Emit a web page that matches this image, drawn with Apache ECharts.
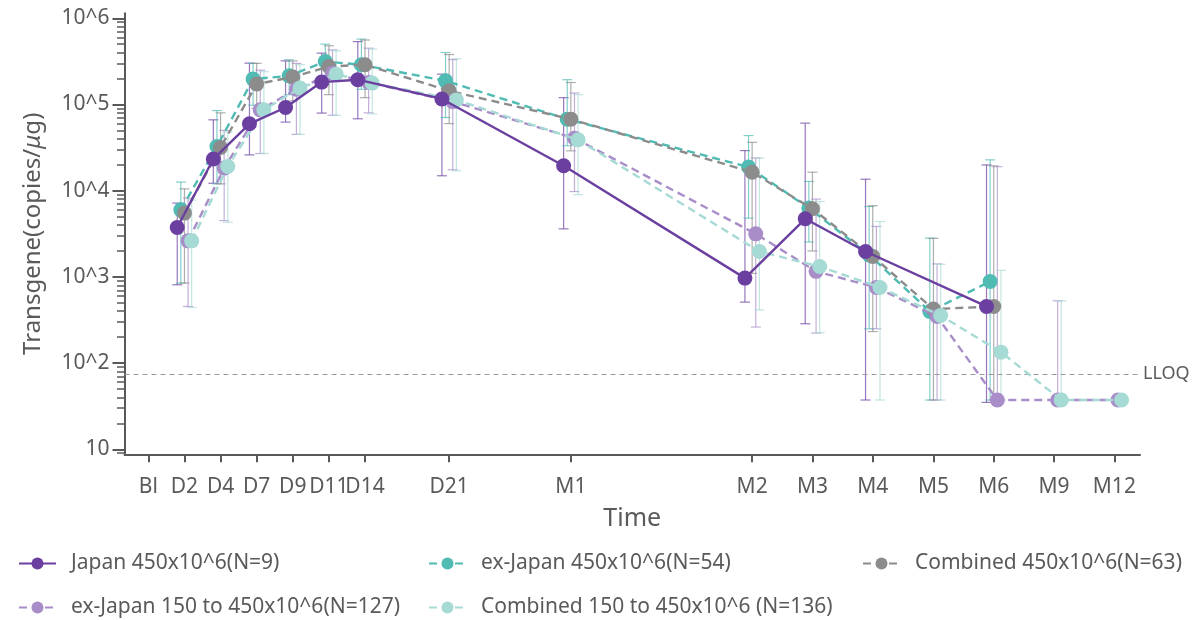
<!DOCTYPE html>
<html>
<head>
<meta charset="utf-8">
<script src="https://cdn.jsdelivr.net/npm/echarts@6/dist/echarts.min.js"></script>
<style>
html,body{margin:0;padding:0;background:#fff;}
#chart{width:1204px;height:620px;}
</style>
</head>
<body>
<div id="chart"></div>
<script>
// ---- Data ----
const timeLabels = ['Bl','D2','D4','D7','D9','D11','D14','D21','M1','M2','M3','M4','M5','M6','M9','M12'];
const timePos = [0, 1, 2, 3, 4, 5, 6, 8.33, 11.7, 16.72, 18.39, 20.06, 21.74, 23.41, 25.08, 26.75];
const yTickLabels = ['10','10^2','10^3','10^4','10^5','10^6'];
const LLOQ = 74.5;

const seriesNames = [
  'Japan 450x10^6(N=9)',
  'ex-Japan 450x10^6(N=54)',
  'Combined 450x10^6(N=63)',
  'ex-Japan 150 to 450x10^6(N=127)',
  'Combined 150 to 450x10^6 (N=136)'
];

const japanVal = [null,3740,23300,59700,92300,182000,194000,116000,19500,968,4720,1970,null,454,null,null];
const japanHi  = [null,7180,66400,302000,321000,394000,537000,225000,120000,29200,60800,13600,null,19900,null,null];
const japanLo  = [null,810,12200,26000,62500,79500,68300,14900,3610,510,286,37.3,null,35,null,null];

const exJ450Val = [null,6000,32600,197000,215000,315000,289000,188000,67600,18800,6290,1800,397,885,null,null];
const exJ450Hi  = [null,12600,85100,300000,330000,501000,574000,401000,194000,43600,12800,6560,2820,22800,null,null];
const exJ450Lo  = [null,848,12000,98000,130000,170000,150000,70600,33200,4810,2540,250,37.3,37.3,null,null];

const comb450Val = [null,5500,31700,173000,208000,276000,289000,144000,67600,16400,6170,1730,423,454,null,null];
const comb450Hi  = [null,10500,80000,300000,320000,480000,560000,380000,180000,36400,16400,6700,2800,19400,null,null];
const comb450Lo  = [null,848,12000,90000,110000,130000,120000,60000,29000,1100,2000,232,37.3,37.3,null,null];

const exJ150Val = [null,2620,18300,86700,150000,230000,180000,108000,40700,3160,1160,754,347,37.3,37.3,37.3];
const exJ150Hi  = [null,8200,50000,250000,300000,430000,450000,332000,136000,24000,8000,3850,1415,19000,528,null];
const exJ150Lo  = [null,454,4500,27000,45000,75000,80000,17500,9770,262,223,250,37.3,37.3,37.3,null];

const comb150Val = [null,2620,19100,86700,155000,225000,177000,113000,38900,1970,1320,754,356,134,37.3,37.3];
const comb150Hi  = [null,7800,48000,240000,290000,420000,440000,340000,130000,23900,7500,4390,1400,1190,528,null];
const comb150Lo  = [null,442,4300,27000,45000,75000,78000,17000,9000,415,226,37.3,37.3,37.3,37.3,null];

// ---- Chart ----
const FONT = '"Noto Sans", "Open Sans", sans-serif';
const TXT = '#5a5a5a';
const AX = '#595959';
const lg = v => (v == null ? null : Math.log10(v));

const defs = [
  {name: seriesNames[0], color: '#6B3FA0', dashed: false, val: japanVal,  lo: japanLo,  hi: japanHi,  dodge: -2, z: 10},
  {name: seriesNames[1], color: '#50BBB3', dashed: true,  val: exJ450Val, lo: exJ450Lo, hi: exJ450Hi, dodge: -1, z: 6},
  {name: seriesNames[2], color: '#8C8C8C', dashed: true,  val: comb450Val,lo: comb450Lo,hi: comb450Hi,dodge: 0,  z: 7},
  {name: seriesNames[3], color: '#A88DC9', dashed: true,  val: exJ150Val, lo: exJ150Lo, hi: exJ150Hi, dodge: 1,  z: 8},
  {name: seriesNames[4], color: '#A6DAD4', dashed: true,  val: comb150Val,lo: comb150Lo,hi: comb150Hi,dodge: 2,  z: 9}
];
const DODGE = 0.1;

const series = [];
defs.forEach(d => {
  const off = d.dodge * DODGE;
  const errData = [];
  timePos.forEach((p, i) => {
    if (d.lo[i] != null && d.hi[i] != null) errData.push([p + off, lg(d.lo[i]), lg(d.hi[i])]);
  });
  series.push({
    type: 'custom',
    name: d.name + ' err',
    z: 2,
    silent: true,
    encode: {x: 0, y: [1, 2]},
    data: errData,
    renderItem: function (params, api) {
      const x = api.value(0);
      const pHi = api.coord([x, api.value(2)]);
      const pLo = api.coord([x, api.value(1)]);
      const style = {stroke: d.color, lineWidth: 1.2, opacity: 0.7};
      const c = 5;
      return {
        type: 'group',
        children: [
          {type: 'line', shape: {x1: pHi[0], y1: pHi[1], x2: pLo[0], y2: pLo[1]}, style: style},
          {type: 'line', shape: {x1: pHi[0] - c, y1: pHi[1], x2: pHi[0] + c, y2: pHi[1]}, style: style},
          {type: 'line', shape: {x1: pLo[0] - c, y1: pLo[1], x2: pLo[0] + c, y2: pLo[1]}, style: style}
        ]
      };
    }
  });
});

defs.forEach((d, k) => {
  const off = d.dodge * DODGE;
  const data = [];
  timePos.forEach((p, i) => { if (d.val[i] != null) data.push([p + off, lg(d.val[i])]); });
  const s = {
    type: 'line',
    name: d.name,
    z: d.z,
    data: data,
    symbol: 'circle',
    symbolSize: 15,
    itemStyle: {color: d.color, opacity: 1},
    lineStyle: {color: d.color, width: 2.4, type: d.dashed ? [8, 5] : 'solid'},
    emphasis: {disabled: true}
  };
  if (k === 0) {
    s.markLine = {
      silent: true,
      symbol: 'none',
      animation: false,
      lineStyle: {color: '#9a9a9a', width: 1, type: [5, 4]},
      label: {show: true, position: 'end', formatter: 'LLOQ', color: TXT, fontSize: 18, fontFamily: FONT, distance: 3},
      data: [{yAxis: lg(LLOQ)}]
    };
  }
  series.push(s);
});

const majorVals = yTickLabels.map((t, i) => i + 1);
const minorVals = [];
for (let n = 0; n <= 5; n++) {
  for (let k = 2; k <= 9; k++) {
    const v = n + Math.log10(k);
    if (v > 0.942 && v < 6.058) minorVals.push(v);
  }
}
const YMIN = 0.942, YMAX = 6.058;

const legendBase = {
  orient: 'horizontal',
  itemWidth: 37,
  itemHeight: 15,
  padding: 0,
  textStyle: {fontSize: 21, color: TXT, fontFamily: FONT, padding: [0, 0, 0, 10]}
};
const legendSpots = [
  {left: 18, top: 553}, {left: 428, top: 553}, {left: 862, top: 553},
  {left: 18, top: 597}, {left: 428, top: 597}
];
const legends = seriesNames.map((n, i) => Object.assign({}, legendBase, legendSpots[i], {data: [n]}));

const option = {
  animation: false,
  backgroundColor: '#fff',
  textStyle: {fontFamily: FONT},
  grid: {left: 124.5, right: 64, top: 13.3, bottom: 165.7, containLabel: false},
  legend: legends,
  xAxis: {
    type: 'value',
    min: -0.66,
    max: 27.46,
    name: 'Time',
    nameLocation: 'middle',
    nameGap: 52,
    nameTextStyle: {fontSize: 25, color: TXT, fontFamily: FONT},
    axisLine: {show: true, onZero: false, lineStyle: {color: AX, width: 2}},
    axisTick: {show: true, customValues: timePos, length: 8, lineStyle: {color: AX, width: 2}},
    axisLabel: {
      customValues: timePos,
      color: TXT, fontSize: 21, fontFamily: FONT, margin: 22,
      formatter: function (v) {
        let best = 0, bd = 1e9;
        timePos.forEach((p, i) => { const dd = Math.abs(p - v); if (dd < bd) { bd = dd; best = i; } });
        return timeLabels[best];
      }
    },
    splitLine: {show: false}
  },
  yAxis: [
    {
      type: 'value',
      min: YMIN,
      max: YMAX,
      name: 'Transgene(copies/{i|μ}g)',
      nameLocation: 'middle',
      nameGap: 79,
      nameTextStyle: {fontSize: 24, color: TXT, fontFamily: FONT, rich: {i: {fontSize: 24, color: TXT, fontStyle: 'italic', fontFamily: FONT}}},
      axisLine: {show: true, onZero: false, lineStyle: {color: AX, width: 2}},
      axisTick: {show: true, customValues: majorVals, length: 12, lineStyle: {color: AX, width: 2}},
      axisLabel: {
        customValues: majorVals,
        color: TXT, fontSize: 21, fontFamily: FONT, margin: 15,
        formatter: function (v) { return yTickLabels[Math.round(v) - 1]; }
      },
      splitLine: {show: false}
    },
    {
      type: 'value',
      min: YMIN,
      max: YMAX,
      position: 'left',
      offset: 0,
      axisLine: {show: false, onZero: false},
      axisTick: {show: true, customValues: minorVals, length: 7.5, lineStyle: {color: AX, width: 1.5}},
      axisLabel: {show: false},
      splitLine: {show: false}
    }
  ],
  series: series
};

const chart = echarts.init(document.getElementById('chart'), null, {renderer: 'canvas'});
chart.setOption(option);
</script>
</body>
</html>
